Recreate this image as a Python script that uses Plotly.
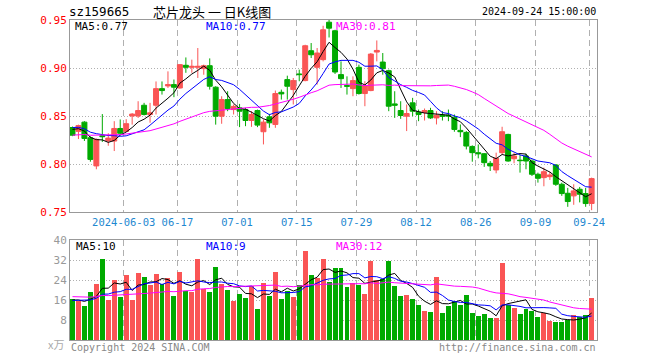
import numpy as np
import pandas as pd
import plotly.graph_objects as go

# ---------------- data ----------------
dates = [d.strftime("%Y-%m-%d") for d in pd.bdate_range(
    "2024-05-21", "2024-09-24", freq="C",
    holidays=["2024-06-10", "2024-09-16", "2024-09-17"])]

open_ = [0.838, 0.834, 0.8436, 0.8273, 0.798, 0.8295, 0.824, 0.8239, 0.837, 0.834,
         0.850, 0.850, 0.8612, 0.8516, 0.8612, 0.8785, 0.8813, 0.8827, 0.8792, 0.9028,
         0.9007, 0.9007, 0.8993, 0.9024, 0.880, 0.8498, 0.8671, 0.8567, 0.8585, 0.8567,
         0.8453, 0.8557, 0.8336, 0.8491, 0.8412, 0.8747, 0.8879, 0.8775, 0.8938, 0.8869,
         0.918, 0.9007, 0.9087, 0.9477, 0.9388, 0.8931, 0.8817, 0.8785, 0.9007, 0.8734,
         0.8765, 0.9166, 0.9062, 0.8972, 0.8626, 0.8557, 0.8498, 0.8637, 0.854, 0.8536,
         0.8557, 0.848, 0.8509, 0.8509, 0.8488, 0.835, 0.8329, 0.8183, 0.8118, 0.8107,
         0.8007, 0.7938, 0.8118, 0.8308, 0.8055, 0.804, 0.8083, 0.8031, 0.7893, 0.7858,
         0.7868, 0.799, 0.7789, 0.7695, 0.7668, 0.7737, 0.7692, 0.7589]
high = [0.839, 0.841, 0.8446, 0.829, 0.8266, 0.852, 0.832, 0.8446, 0.8464, 0.8467,
        0.853, 0.8654, 0.8637, 0.8637, 0.886, 0.886, 0.8965, 0.888, 0.904, 0.911,
        0.9087, 0.9208, 0.9035, 0.910, 0.881, 0.8706, 0.8758, 0.862, 0.8626, 0.8585,
        0.855, 0.8567, 0.8464, 0.8522, 0.8765, 0.8775, 0.892, 0.8896, 0.8983, 0.9242,
        0.926, 0.9208, 0.944, 0.950, 0.9398, 0.9069, 0.8913, 0.8913, 0.9035, 0.8862,
        0.9156, 0.9287, 0.9156, 0.8983, 0.8758, 0.8654, 0.862, 0.8689, 0.8567, 0.8578,
        0.8585, 0.855, 0.855, 0.8567, 0.8516, 0.8412, 0.8343, 0.8194, 0.8204, 0.8114,
        0.8031, 0.8118, 0.8388, 0.8315, 0.8118, 0.8097, 0.8107, 0.8048, 0.791, 0.7962,
        0.792, 0.7997, 0.7806, 0.7751, 0.7789, 0.7761, 0.7751, 0.7858]
low = [0.829, 0.826, 0.824, 0.8024, 0.7945, 0.823, 0.819, 0.8135, 0.831, 0.8377,
       0.841, 0.848, 0.8505, 0.843, 0.8516, 0.8723, 0.8792, 0.8696, 0.8785, 0.895,
       0.895, 0.8896, 0.893, 0.8775, 0.841, 0.8419, 0.855, 0.8516, 0.8384, 0.8394,
       0.8387, 0.8384, 0.8204, 0.8377, 0.8377, 0.8671, 0.8671, 0.862, 0.8862, 0.8862,
       0.9104, 0.8827, 0.9069, 0.9318, 0.8938, 0.8792, 0.8723, 0.8706, 0.8723, 0.8602,
       0.8758, 0.9069, 0.893, 0.855, 0.848, 0.847, 0.8343, 0.8498, 0.8446, 0.8453,
       0.847, 0.8412, 0.8453, 0.8446, 0.8336, 0.828, 0.8152, 0.8024, 0.8059, 0.797,
       0.7927, 0.7903, 0.810, 0.8024, 0.8007, 0.791, 0.7945, 0.7875, 0.7806, 0.7768,
       0.7834, 0.7772, 0.7668, 0.7554, 0.7575, 0.760, 0.7554, 0.7519]
close = [0.830, 0.840, 0.8266, 0.8048, 0.8256, 0.8285, 0.827, 0.837, 0.832, 0.842,
         0.852, 0.8557, 0.8516, 0.8533, 0.8785, 0.8765, 0.8827, 0.880, 0.9035, 0.9007,
         0.9017, 0.9017, 0.9024, 0.881, 0.8498, 0.8671, 0.8578, 0.860, 0.855, 0.8453,
         0.8516, 0.8405, 0.8436, 0.8429, 0.8734, 0.873, 0.881, 0.8869, 0.8931, 0.9232,
         0.9138, 0.9156, 0.9398, 0.9415, 0.8958, 0.8889, 0.881, 0.8869, 0.8734, 0.8817,
         0.9145, 0.9183, 0.8993, 0.8602, 0.8612, 0.8505, 0.8526, 0.855, 0.8516, 0.8557,
         0.848, 0.8509, 0.8498, 0.850, 0.836, 0.8336, 0.8187, 0.8118, 0.8107, 0.8014,
         0.798, 0.8059, 0.8336, 0.8031, 0.8083, 0.8035, 0.8031, 0.7893, 0.7851, 0.792,
         0.7886, 0.7789, 0.7692, 0.7609, 0.772, 0.7685, 0.7588, 0.7848]
volume = [16.3, 15.7, 13.6, 19.2, 22.5, 32.4, 16.0, 24.0, 17.1, 26.0,
          16.0, 26.8, 25.2, 22.0, 26.5, 22.4, 24.8, 17.6, 27.2, 19.6,
          19.2, 32.4, 20.4, 19.2, 29.2, 22.4, 20.0, 15.6, 18.4, 16.8,
          21.6, 12.4, 22.8, 17.6, 27.2, 16.4, 19.6, 17.2, 22.0, 35.6,
          26.0, 24.8, 32.4, 23.2, 28.8, 28.8, 21.2, 22.8, 22.0, 18.4,
          31.6, 24.0, 24.4, 31.6, 21.6, 17.6, 18.0, 16.4, 14.0, 11.6,
          11.2, 25.2, 10.8, 13.6, 15.6, 14.0, 18.0, 10.8, 9.6, 10.4,
          8.8, 8.8, 30.8, 14.0, 12.8, 10.4, 12.4, 11.6, 9.2, 10.8,
          7.6, 7.2, 7.2, 8.0, 10.0, 9.2, 10.0, 16.8]

# estimated sessions before the visible window (needed for the moving averages)
prior_close = [0.822, 0.825, 0.828, 0.824, 0.820, 0.826, 0.830, 0.829, 0.823, 0.827,
               0.831, 0.828, 0.824, 0.826, 0.829, 0.827, 0.822, 0.825, 0.830, 0.826,
               0.838, 0.842, 0.840, 0.841, 0.839, 0.836, 0.839, 0.838, 0.837]
prior_volume = [18.0, 17.5, 19.0, 16.5, 18.5, 17.0, 20.0, 18.0, 17.5, 19.5,
                18.5, 17.0, 16.5, 19.0, 18.0, 17.5, 20.5, 18.0, 17.0, 18.5,
                15.5, 15.0, 16.0, 15.8, 16.0, 15.5, 16.5, 15.0, 16.6]

tick_dates = ["2024-06-03", "2024-06-17", "2024-07-01", "2024-07-15", "2024-07-29",
              "2024-08-12", "2024-08-26", "2024-09-09", "2024-09-24"]
tick_labels = ["2024-06-03", "06-17", "07-01", "07-15", "07-29",
               "08-12", "08-26", "09-09", "09-24"]
price_ticks = [0.75, 0.80, 0.85, 0.90, 0.95]
vol_ticks = [8, 16, 24, 32, 40]

title_code = "sz159665"
title_name = "芯片龙头 一 日K线图"
title_time = "2024-09-24 15:00:00"
price_ma_text = ["MA5:0.77", "MA10:0.77", "MA30:0.81"]
vol_ma_text = ["MA5:10", "MA10:9", "MA30:12"]

# ---------------- helpers ----------------
def moving_avg(prior, vals, n):
    s = pd.Series(list(prior) + list(vals), dtype=float)
    return s.rolling(n).mean().iloc[len(prior):].tolist()

x = list(range(len(dates)))
RED = "#fa5555"
GREEN = "#00aa00"
MA_COLORS = ["#000000", "#0000ff", "#ff00ff"]
MONO = "DejaVu Sans Mono"
GRID = "#b0b0b0"
FRAME = "#999999"

fig = go.Figure()

fig.add_trace(go.Candlestick(
    x=x, open=open_, high=high, low=low, close=close,
    increasing=dict(line=dict(color=RED, width=1), fillcolor=RED),
    decreasing=dict(line=dict(color=GREEN, width=1), fillcolor=GREEN),
    whiskerwidth=0, showlegend=False, xaxis="x", yaxis="y"))

for n, c in zip([5, 10, 30], MA_COLORS):
    fig.add_trace(go.Scatter(x=x, y=moving_avg(prior_close, close, n), mode="lines",
                             line=dict(color=c, width=1), showlegend=False,
                             xaxis="x", yaxis="y"))

bar_colors = [RED if c >= o else GREEN for o, c in zip(open_, close)]
fig.add_trace(go.Bar(x=x, y=volume, marker=dict(color=bar_colors, line=dict(width=0)),
                     width=0.83, showlegend=False, xaxis="x2", yaxis="y2"))
for n, c in zip([5, 10, 30], MA_COLORS):
    fig.add_trace(go.Scatter(x=x, y=moving_avg(prior_volume, volume, n), mode="lines",
                             line=dict(color=c, width=1), showlegend=False,
                             xaxis="x2", yaxis="y2"))

# page body margin is removed in the page (post_script)
W, H = 660, 360
PLOT_L, PLOT_R, PLOT_T, PLOT_B = 70, 597, 20, 340   # plot frame in pixels
PW = PLOT_R - PLOT_L
PH = PLOT_B - PLOT_T
L, T = PLOT_L, PLOT_T
R = W - L - PW
B = H - T - PH
shift = 2.5 / 6.0  # gridline sits at left edge of the candle
xr = [-shift, len(dates) - 1 + 0.9]
tickpos = [dates.index(d) - shift for d in tick_dates]

def py(pix):  # pixel y -> paper y
    return (PLOT_B - pix) / PH

def px(pix):
    return (pix - PLOT_L) / PW

common_x = dict(range=xr, tickmode="array", tickvals=tickpos, showgrid=True,
                gridcolor=GRID, griddash="6px,4px", gridwidth=1, zeroline=False,
                showline=True, mirror=True, linecolor=FRAME, linewidth=1, ticks="",
                fixedrange=True, automargin=False)

fig.update_layout(
    width=W, height=H, margin=dict(l=L, r=R, t=T, b=B, autoexpand=False),
    paper_bgcolor="white", plot_bgcolor="white",
    boxgap=0.17, boxgroupgap=0, bargap=0,
    showlegend=False, hovermode=False,
    font=dict(family=MONO, size=11, color="#000"),
    xaxis=dict(common_x, domain=[0, 1], anchor="y", ticktext=tick_labels,
               showticklabels=True, rangeslider=dict(visible=False),
               tickfont=dict(family=MONO, size=10.5, color="#1e88d0")),
    yaxis=dict(domain=[py(212), 1], range=[0.75, 0.95], tickvals=price_ticks,
               ticktext=[f"{v:.2f}" for v in price_ticks], showgrid=True,
               gridcolor=GRID, griddash="1px,2px", zeroline=False, showline=True,
               mirror=True, linecolor=FRAME, linewidth=1, ticks="", automargin=False,
               fixedrange=True,
               tickfont=dict(family=MONO, size=11, color="#ff0000"), anchor="x"),
    xaxis2=dict(common_x, domain=[0, 1], anchor="y2", showticklabels=False,
                ticktext=tick_labels),
    yaxis2=dict(domain=[0, py(240)], range=[0, 40], tickvals=vol_ticks,
                ticktext=[str(v) for v in vol_ticks], showgrid=True,
                gridcolor=GRID, griddash="1px,2px", zeroline=False, showline=True,
                mirror=True, linecolor=FRAME, linewidth=1, ticks="", automargin=False,
                fixedrange=True,
                tickfont=dict(family=MONO, size=11, color="#999999"), anchor="x2"),
)

ann = []
ann.append(dict(text=title_code, x=px(67), y=py(11), xanchor="left", yanchor="middle",
                font=dict(family=MONO, size=12.5, color="#000")))
ann.append(dict(text=title_name, x=px(212), y=py(11), xanchor="center", yanchor="middle",
                font=dict(family="Noto Sans CJK SC", size=13, color="#000")))
ann.append(dict(text=title_time, x=px(598), y=py(11), xanchor="right", yanchor="middle",
                font=dict(family=MONO, size=10, color="#000")))
for t, xp, c in zip(price_ma_text, [73, 204, 334], MA_COLORS):
    ann.append(dict(text=t, x=px(xp), y=py(27), xanchor="left", yanchor="middle",
                    font=dict(family=MONO, size=11, color=c)))
for t, xp, c in zip(vol_ma_text, [74, 204, 334], MA_COLORS):
    ann.append(dict(text=t, x=px(xp), y=py(246), xanchor="left", yanchor="middle",
                    font=dict(family=MONO, size=11, color=c)))
ann.append(dict(text="x万", x=px(66), y=py(344), xanchor="right", yanchor="middle",
                font=dict(family="Noto Sans CJK SC", size=11, color="#aaaaaa")))
ann.append(dict(text="Copyright 2024 SINA.COM", x=px(69), y=py(347), xanchor="left",
                yanchor="middle", font=dict(family=MONO, size=10, color="#888888")))
ann.append(dict(text="http://finance.sina.com.cn", x=px(598), y=py(347), xanchor="right",
                yanchor="middle", font=dict(family=MONO, size=10, color="#888888")))
for a in ann:
    a.update(xref="paper", yref="paper", showarrow=False)
fig.update_layout(annotations=ann)

fig.write_html("out.html", config={"displayModeBar": False, "staticPlot": True},
               post_script="document.body.style.margin='0';")
